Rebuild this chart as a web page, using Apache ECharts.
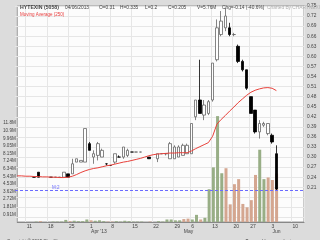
<!DOCTYPE html>
<html><head><meta charset="utf-8">
<script src="https://cdn.jsdelivr.net/npm/echarts@6/dist/echarts.min.js"></script>
<style>html,body{margin:0;padding:0;background:#dcdcdc;}#c{width:320px;height:240px;}</style>
</head><body><div id="c"></div>
<script>
const dates = ['2013-03-07','2013-03-08','2013-03-11','2013-03-12','2013-03-13','2013-03-14','2013-03-15','2013-03-18','2013-03-19','2013-03-20','2013-03-21','2013-03-22','2013-03-25','2013-03-26','2013-03-27','2013-03-28','2013-03-29','2013-04-01','2013-04-02','2013-04-03','2013-04-04','2013-04-05','2013-04-08','2013-04-09','2013-04-10','2013-04-11','2013-04-12','2013-04-15','2013-04-16','2013-04-17','2013-04-18','2013-04-19','2013-04-22','2013-04-23','2013-04-24','2013-04-25','2013-04-26','2013-04-29','2013-04-30','2013-05-02','2013-05-03','2013-05-06','2013-05-07','2013-05-08','2013-05-09','2013-05-10','2013-05-13','2013-05-14','2013-05-15','2013-05-16','2013-05-17','2013-05-20','2013-05-21','2013-05-22','2013-05-23','2013-05-27','2013-05-28','2013-05-29','2013-05-30','2013-05-31','2013-06-03','2013-06-04','2013-06-05','2013-06-06','2013-06-07','2013-06-10','2013-06-11','2013-06-12'];
const open  = [null,null,null,null,0.24,0.255,null,null,0.24,0.24,0.24,0.24,0.25,0.25,0.285,0.285,0.285,0.34,0.30,0.305,0.30,0.28,0.275,0.285,0.30,0.30,0.305,0.315,0.315,0.315,null,0.30,null,0.295,0.31,0.31,0.295,0.295,0.30,0.305,0.31,0.31,0.42,0.47,0.425,0.43,0.47,0.59,0.665,0.685,0.685,0.665,0.63,0.585,0.56,0.48,0.44,0.375,0.395,0.37,0.365,0.31];
const close = [null,null,null,null,0.24,0.24,null,null,0.24,0.24,0.24,0.255,0.24,0.28,0.295,0.29,0.385,0.32,0.31,0.34,0.32,0.28,0.275,0.31,0.30,0.33,0.32,0.315,0.315,0.315,null,0.295,null,0.31,0.31,0.31,0.34,0.33,0.33,0.335,0.335,0.40,0.47,0.43,0.455,0.465,0.58,0.685,0.705,0.72,0.665,0.665,0.585,0.56,0.505,0.43,0.375,0.40,0.40,0.40,0.345,0.205];
const high  = [null,null,null,null,0.24,0.255,null,null,0.24,0.24,0.24,0.255,0.25,0.295,0.295,0.29,0.385,0.345,0.32,0.345,0.325,0.28,0.275,0.31,0.305,0.33,0.325,0.315,0.315,0.315,null,0.30,null,0.31,0.31,0.31,0.345,0.335,0.335,0.34,0.34,0.40,0.47,0.59,0.47,0.47,0.58,0.71,0.735,0.745,0.70,0.67,0.635,0.59,0.56,0.48,0.44,0.41,0.405,0.40,0.37,0.335];
const low   = [null,null,null,null,0.24,0.24,null,null,0.24,0.24,0.24,0.24,0.24,0.25,0.285,0.285,0.285,0.32,0.28,0.29,0.30,0.275,0.275,0.28,0.30,0.295,0.30,0.315,0.315,0.315,null,0.295,null,0.285,0.31,0.305,0.295,0.295,0.30,0.305,0.31,0.31,0.41,0.43,0.41,0.425,0.465,0.585,0.66,0.675,0.66,0.66,0.58,0.555,0.50,0.43,0.37,0.355,0.39,0.365,0.34,0.20];
const volumeM = [null,null,null,null,0.05,0.1,null,null,0.05,0.05,0.05,0.25,0.1,0.15,0.1,0.1,0.3,0.2,0.15,0.2,0.1,0.05,0.05,0.1,0.05,0.15,0.1,0.05,0.05,0.05,null,0.05,null,0.1,0.05,0.3,0.3,0.2,0.2,0.35,0.4,0.3,0.85,0.3,0.5,3.9,6.5,12.6,5.8,6.4,2.1,4.5,5.1,2.15,1.75,2.6,5.6,8.6,5.1,5.3,5.0,5.76];
const volumeUp = [0,0,0,0,1,0,0,0,1,1,1,1,0,1,1,1,1,0,1,1,1,0,0,1,1,1,1,1,1,1,0,0,0,1,1,1,1,1,1,0,0,1,1,0,1,1,1,1,1,0,0,0,0,0,0,0,0,1,1,0,0,0];
const ma = [0.244,0.244,0.243,0.243,0.242,0.242,0.241,0.241,0.240,0.240,0.239,0.239,0.240,0.243,0.248,0.254,0.259,0.263,0.266,0.268,0.271,0.274,0.276,0.279,0.282,0.285,0.287,0.290,0.293,0.296,0.300,0.304,0.307,0.309,0.310,0.311,0.312,0.312,0.313,0.313,0.313,0.318,0.325,0.331,0.337,0.343,0.362,0.398,0.412,0.424,0.437,0.449,0.462,0.473,0.484,0.493,0.499,0.503,0.506,0.507,0.505,0.498];
const priceLine = 0.20;
const monthNames = {'04':"Apr '13", '05':'May', '06':'Jun'};
const headerTexts = ['HYTEXIN (5058)','04/06/2013','O=0.31','H=0.335','L=0.2','C=0.205','V=5.76M','Chg=-0.14 (-40.6%)'];

const candles = dates.map((d,i)=> open[i]==null ? ['-','-','-','-'] : [open[i],close[i],low[i],high[i]]);
const vols = dates.map((d,i)=> volumeM[i]==null ? '-' : {value: volumeM[i]*1e6, itemStyle:{color: volumeUp[i] ? '#98ae86' : '#d4a690'}});
const isMonday = (i,v)=> new Date(v+'T00:00:00Z').getUTCDay()===1;
const isMonthStart = (i,v)=> i>0 && v.slice(5,7)!==dates[i-1].slice(5,7);

const FONT = 'Liberation Sans';
const headerLeft = [15,60,94,115,140,163,192,217];
const titles = headerTexts.map((t,k)=>({text:t,left:headerLeft[k],top:0.5,textStyle:{fontSize:k===0?5.2:4.8,fontWeight:k===0?'bold':'normal',color:'#444',fontFamily:FONT}}));
titles.push({text:'Charted By CHARTNEXUS',left:262,top:0.5,textStyle:{fontSize:4.8,color:'#b0b0b0',fontFamily:FONT,fontWeight:'normal'}});
titles.push({text:'Moving Average (250)',left:15,top:7.5,textStyle:{fontSize:4.5,color:'#e83a3a',fontFamily:FONT,fontWeight:'normal'}});
titles.push({text:'Copyright © 2013 ChartNexus',left:2,top:234,textStyle:{fontSize:4.5,color:'#444',fontFamily:FONT,fontWeight:'normal'}});
titles.push({text:'Powered by www.chartnexus.com',right:2,top:234,textStyle:{fontSize:4.5,color:'#444',fontFamily:FONT,fontWeight:'normal'}});

const chart = echarts.init(document.getElementById('c'), null, {renderer:'canvas'});
chart.setOption({
  animation:false,
  backgroundColor:'#dcdcdc',
  textStyle:{fontFamily:FONT},
  title: titles,
  grid:[
    {left:15,right:16,top:6,bottom:18,show:true,backgroundColor:'#fcfcfc',borderColor:'#9a9a9a',borderWidth:1},
    {left:15,right:16,top:6,bottom:22.5,show:false}
  ],
  xAxis:[
    {type:'category',gridIndex:0,data:dates,boundaryGap:true,
     axisLine:{lineStyle:{color:'#888'}},
     axisTick:{interval:isMonday,length:3,lineStyle:{color:'#888'}},
     axisLabel:{interval:isMonday,formatter:v=>String(+v.slice(8,10)),fontSize:5,color:'#444',align:'left',margin:2,padding:[0,0,0,-1],fontFamily:FONT},
     splitLine:{show:true,interval:isMonday,lineStyle:{color:'#e6e6e6',width:1}}},
    {type:'category',gridIndex:0,data:dates,position:'bottom',boundaryGap:true,
     axisLine:{show:false},
     axisTick:{interval:isMonthStart,length:9,lineStyle:{color:'#888'}},
     axisLabel:{interval:isMonthStart,formatter:v=>monthNames[v.slice(5,7)]||'',fontSize:5,color:'#444',align:'left',margin:7,fontFamily:FONT}},
    {type:'category',gridIndex:1,data:dates,boundaryGap:true,show:false}
  ],
  yAxis:[
    {type:'value',gridIndex:0,position:'left',min:0,max:25.7e6,interval:905250,
     splitLine:{show:false},axisLine:{show:false},axisTick:{show:false},
     axisLabel:{fontSize:4.6,color:'#444',margin:1.5,fontFamily:FONT,formatter:v=>{if(v<=0||v>12e6)return '';const m=v/1e6;return (m>=10?m.toFixed(1):m.toFixed(2))+'M';}}},
    {type:'value',gridIndex:1,position:'right',min:0.12,max:0.75,interval:0.03,
     splitLine:{lineStyle:{color:'#e6e6e6',width:1}},axisLine:{show:false},axisTick:{show:false},
     axisLabel:{fontSize:4.8,color:'#444',margin:3,fontFamily:FONT,formatter:v=>v<0.2?'':v.toFixed(2)}}
  ],
  series:[
    {type:'bar',xAxisIndex:0,yAxisIndex:0,data:vols,barWidth:3},
    {type:'candlestick',xAxisIndex:2,yAxisIndex:1,data:candles,barWidth:3,clip:false,
     itemStyle:{color:'#ffffff',color0:'#000000',borderColor:'#666666',borderColor0:'#000000',borderWidth:0.8},
     markLine:{silent:true,symbol:'none',data:[{yAxis:priceLine}],
       lineStyle:{type:[3,2],color:'#6b6bff',width:1},
       label:{show:true,formatter:'M:2',position:'insideStartTop',distance:[37,0.5],fontSize:4.5,color:'#6b6bff',fontFamily:FONT}}},
    {type:'line',xAxisIndex:2,yAxisIndex:1,data:ma,showSymbol:false,symbol:'none',lineStyle:{color:'#e8403a',width:1}}
  ]
});
</script>
</body></html>
